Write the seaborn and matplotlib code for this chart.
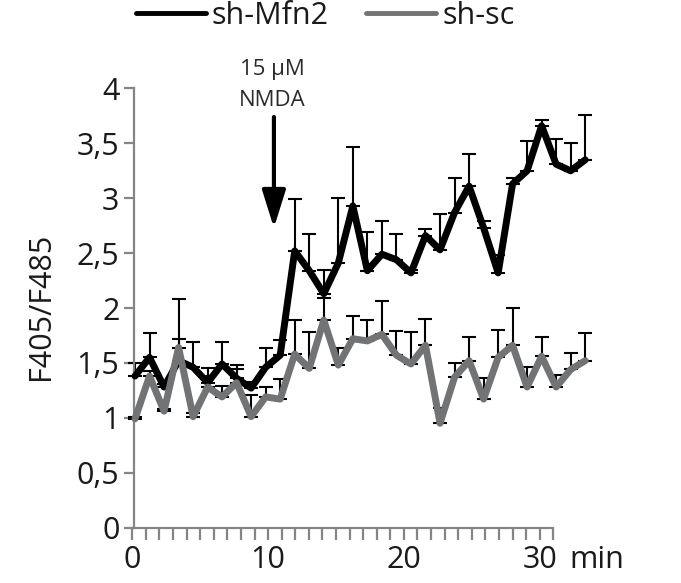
import numpy as np
import pandas as pd
import matplotlib
matplotlib.use("Agg")
import matplotlib.pyplot as plt
import seaborn as sns

# Time of each frame (min)
times = [0.2, 1.27, 2.34, 3.41, 4.48, 5.55, 6.61, 7.68, 8.75, 9.82, 10.89,
         11.96, 13.03, 14.1, 15.17, 16.24, 17.31, 18.38, 19.45, 20.52, 21.59,
         22.66, 23.73, 24.8, 25.87, 26.94, 28.0, 29.07, 30.14, 31.21, 32.28, 33.35]

# F405/F485 ratio, mean and upper error
mfn2_mean = [1.38, 1.55, 1.28, 1.52, 1.46, 1.32, 1.49, 1.36, 1.27, 1.46, 1.57,
             2.52, 2.34, 2.13, 2.41, 2.93, 2.34, 2.49, 2.44, 2.32, 2.66, 2.53,
             2.87, 3.11, 2.73, 2.32, 3.13, 3.25, 3.66, 3.31, 3.25, 3.35]
mfn2_err = [0.12, 0.22, 0.03, 0.20, 0.23, 0.13, 0.20, 0.12, 0.06, 0.18, 0.14,
            0.47, 0.33, 0.22, 0.59, 0.54, 0.35, 0.30, 0.23, 0.03, 0.06, 0.33,
            0.31, 0.29, 0.06, 0.16, 0.05, 0.27, 0.05, 0.23, 0.25, 0.41]
sc_mean = [0.99, 1.38, 1.06, 1.64, 1.01, 1.28, 1.19, 1.32, 1.01, 1.19, 1.17,
           1.58, 1.45, 1.89, 1.48, 1.72, 1.70, 1.76, 1.57, 1.49, 1.66, 0.95,
           1.37, 1.52, 1.17, 1.55, 1.66, 1.28, 1.56, 1.28, 1.44, 1.52]
sc_err = [0.02, 0.05, 0.02, 0.44, 0.03, 0.10, 0.10, 0.12, 0.20, 0.09, 0.18,
          0.31, 0.33, 0.20, 0.16, 0.21, 0.19, 0.30, 0.22, 0.29, 0.24, 0.14,
          0.13, 0.22, 0.19, 0.25, 0.34, 0.18, 0.18, 0.11, 0.15, 0.25]

series = ["sh-Mfn2", "sh-sc"]
palette = {"sh-Mfn2": "#000000", "sh-sc": "#717375"}

y_ticks = [0, 0.5, 1, 1.5, 2, 2.5, 3, 3.5, 4]
y_ticklabels = ["0", "0,5", "1", "1,5", "2", "2,5", "3", "3,5", "4"]
x_ticks = list(range(0, 32))
x_labelled = [0, 10, 20, 30]

df = pd.concat([
    pd.DataFrame({"time": times, "ratio": mfn2_mean, "err": mfn2_err, "line": series[0]}),
    pd.DataFrame({"time": times, "ratio": sc_mean, "err": sc_err, "line": series[1]}),
], ignore_index=True)

sns.set_style("white")
plt.rcParams["font.family"] = ["Open Sans", "DejaVu Sans"]

axis_grey = "#858585"
text_col = "#1a1a1a"

fig = plt.figure(figsize=(6.81, 5.83), dpi=100)
ax = fig.add_axes([0.1743, 0.0763, 0.698, 0.8096])

# upward-only error bars, under the traces
for name in series:
    sub = df[df["line"] == name]
    ax.errorbar(sub["time"], sub["ratio"], yerr=[np.zeros(len(sub)), sub["err"]],
                fmt="none", ecolor="black", elinewidth=1.5, capsize=4.7,
                capthick=1.5, zorder=1)

sns.lineplot(data=df, x="time", y="ratio", hue="line", hue_order=series,
             palette=palette, linewidth=5, estimator=None, sort=False,
             ax=ax, zorder=3)

ax.set_xlim(-1, 34)
ax.set_ylim(-0.1, 4.2)
for side in ("top", "right"):
    ax.spines[side].set_visible(False)
for side in ("left", "bottom"):
    ax.spines[side].set_color(axis_grey)
    ax.spines[side].set_linewidth(1.6)
ax.spines["left"].set_position(("data", 0.1))
ax.spines["left"].set_bounds(0, 4)
ax.spines["bottom"].set_position(("data", 0))
ax.spines["bottom"].set_bounds(0, 31)

ax.set_yticks(y_ticks)
ax.set_yticklabels(y_ticklabels)
ax.set_xticks(x_ticks)
ax.set_xticklabels([str(t) if t in x_labelled else "" for t in x_ticks])
ax.tick_params(axis="x", bottom=True, direction="out", length=8.6, width=1.6,
               color=axis_grey, pad=4, labelsize=22, labelcolor=text_col)
ax.tick_params(axis="y", left=True, direction="out", length=7.2, width=1.6,
               color=axis_grey, pad=3, labelsize=22, labelcolor=text_col)
ax.set_xlabel("")
ax.set_ylabel("")

ax.annotate("min", xy=(32.2, 0), xycoords="data", xytext=(0, -12.6),
            textcoords="offset points", ha="left", va="top", fontsize=22,
            color=text_col, annotation_clip=False)

fig.text(41 / 681, 1 - 306 / 583, "F405/F485", rotation=90, ha="center",
         va="center", fontsize=22, color=text_col)

# NMDA application marker
ax.annotate("", xy=(10.43, 2.73), xytext=(10.43, 3.74),
            arrowprops=dict(arrowstyle="-|>,head_length=1.15,head_width=0.36",
                            lw=3, color="black", mutation_scale=20,
                            shrinkA=0, shrinkB=0),
            annotation_clip=False)
ax.text(10.3, 4.17, "15 \u03bcM", ha="center", va="center", fontsize=16,
        color="#2b2b2b", clip_on=False)
ax.text(10.3, 3.89, "NMDA", ha="center", va="center", fontsize=16,
        color="#2b2b2b", clip_on=False)

sns.move_legend(ax, "center", bbox_to_anchor=(325 / 681, 1 - 16 / 583),
                bbox_transform=fig.transFigure, ncol=2, frameon=False,
                title=None, fontsize=22, handlelength=2.3, handletextpad=0.2,
                columnspacing=1.2)
for handle in ax.get_legend().get_lines():
    handle.set_linewidth(3.5)
for txt in ax.get_legend().get_texts():
    txt.set_color(text_col)

fig.savefig("out.png", dpi=100)
